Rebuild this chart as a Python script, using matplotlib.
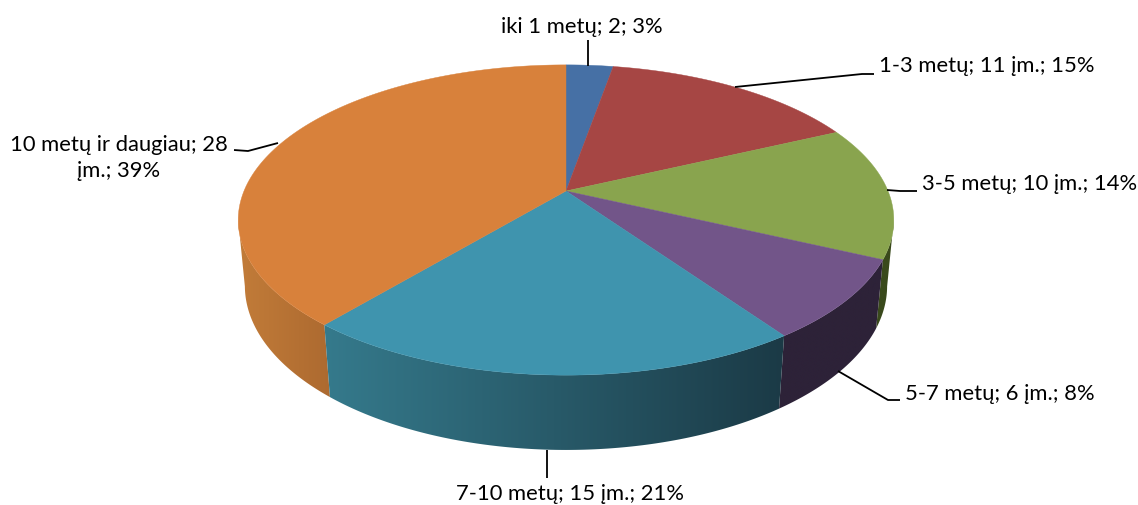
import matplotlib
matplotlib.use("Agg")
import matplotlib.pyplot as plt
from matplotlib.colors import LinearSegmentedColormap
from matplotlib.patches import Polygon
import numpy as np

plt.rcParams['font.family'] = ['Lato', 'DejaVu Sans']

# slices go clockwise from 12 o'clock
categories = ["iki 1 metų", "1-3 metų", "3-5 metų", "5-7 metų", "7-10 metų", "10 metų ir daugiau"]
counts = [2, 11, 10, 6, 15, 28]
labels = ["iki 1 metų; 2; 3%", "1-3 metų; 11 įm.; 15%", "3-5 metų; 10 įm.; 14%",
          "5-7 metų; 6 įm.; 8%", "7-10 metų; 15 įm.; 21%", "10 metų ir daugiau; 28\nįm.; 39%"]

topColors = ["#4670a5", "#a64644", "#89a44e", "#725589", "#3f94ae", "#d8813b"]
sideLeft = ["#2c4468", "#692b2a", "#3a4a1c", "#2d2238", "#357a8c", "#c27c39"]
sideRight = ["#2c4468", "#692b2a", "#3a4a1c", "#2d2238", "#1b3a46", "#ad6a30"]

# label anchor, alignment and leader line, in figure pixels
labelPos = [(582, 27, "center"), (879, 66, "left"), (922, 184, "left"),
            (905, 394, "left"), (570, 494, "center"), (119, 158, "center")]
leaders = [[(588, 40), (588, 66)],
           [(735, 87), (862, 74), (874, 74)],
           [(887, 190), (900, 191), (917, 191)],
           [(838, 371), (888, 400), (900, 400)],
           [(547, 450), (547, 478)],
           [(278, 143), (248, 151), (234, 150)]]

# perspective of the disc
cx, cy = 566, 191
radius = 322
tilt = 0.187
squash = 149.7
bottomW = 1.02
bottomDrop = 66


def project(theta, bottom=False):
	x = np.sin(theta)
	y = np.cos(theta)
	if bottom:
		w = bottomW + tilt * y
		return cx + radius * x / w, cy + (-squash * y + bottomDrop) / w
	w = 1 + tilt * y
	return cx + radius * x / w, cy - squash * y / w


def pieChart(ax, counts):
	edges = np.cumsum([0] + counts) / sum(counts) * 2 * np.pi
	# wall is visible between the two tangent points, going further makes the polygon fold
	visFrom = np.arccos(-tilt)
	visTo = 2 * np.pi - visFrom

	# outer wall, image with horizontal gradient clipped to the slice
	walls = []
	for i in range(len(counts)):
		start = max(edges[i], visFrom)
		stop = min(edges[i + 1], visTo)
		if stop > start:
			walls.append((abs((start + stop) / 2 - np.pi), i, start, stop))
	walls.sort(key=lambda w: -w[0])

	for _, i, start, stop in walls:
		steps = np.linspace(start, stop, 150)
		tx, ty = project(steps)
		bx, by = project(steps, True)
		px = np.r_[tx, bx[::-1]]
		py = np.r_[ty, by[::-1]]
		clip = Polygon(np.c_[px, py], closed=True, transform=ax.transData, fc="none", ec="none")
		ax.add_patch(clip)
		cmap = LinearSegmentedColormap.from_list("wall", [sideLeft[i], sideRight[i]])
		im = ax.imshow(np.linspace(0, 1, 256)[None, :], cmap=cmap, aspect="auto",
					   extent=[px.min(), px.max(), py.max(), py.min()], interpolation="bilinear")
		im.set_clip_path(clip)

	# top face
	for i in range(len(counts)):
		steps = np.linspace(edges[i], edges[i + 1], 120)
		px, py = project(steps)
		ax.fill(np.r_[cx, px], np.r_[cy, py], color=topColors[i], lw=0.3)


fig = plt.figure(figsize=(11.38, 5.05), dpi=100)
ax = fig.add_axes([0, 0, 1, 1])
ax.axis("off")

pieChart(ax, counts)

for line in leaders:
	ax.plot([p[0] for p in line], [p[1] for p in line], color="black", lw=1.3, solid_capstyle="butt")

for text, (x, y, align) in zip(labels, labelPos):
	ax.text(x, y, text, ha=align, va="center", fontsize=15.8, color="black", multialignment="center", linespacing=1.4)

ax.set_xlim(0, 1138)
ax.set_ylim(505, 0)

plt.savefig("out.png", dpi=100)
plt.close()
